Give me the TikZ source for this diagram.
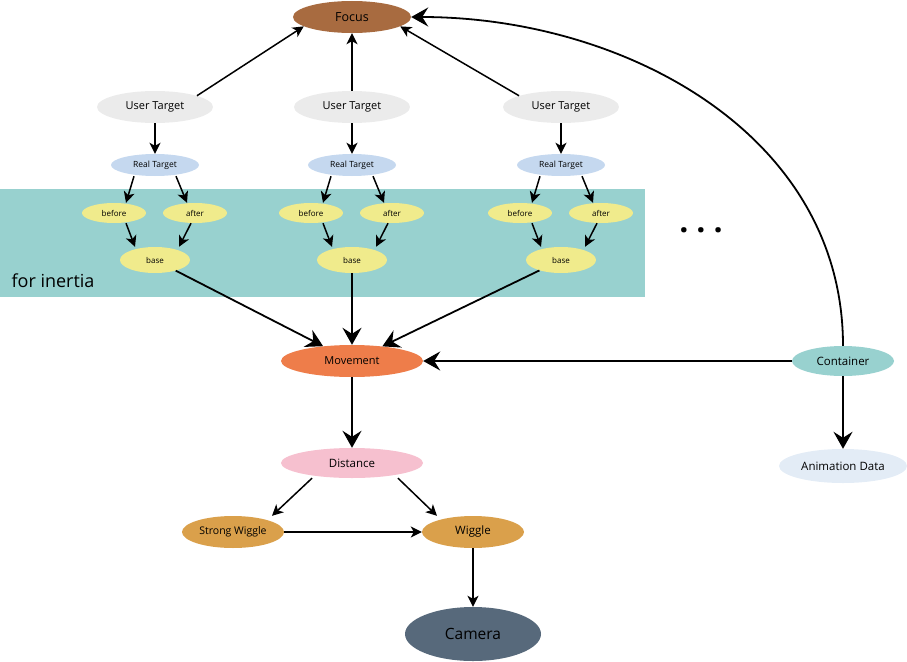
\documentclass[tikz,border=0pt]{standalone}
\usepackage{fontspec}
\setmainfont{Open Sans}
\usetikzlibrary{shapes.geometric,arrows.meta}

\definecolor{focuscol}{HTML}{A86B40}
\definecolor{usercol}{HTML}{EBEBEB}
\definecolor{realcol}{HTML}{C5D8EF}
\definecolor{inertcol}{HTML}{F0EB8C}
\definecolor{tealcol}{HTML}{98D1CF}
\definecolor{movecol}{HTML}{EE7D4A}
\definecolor{animcol}{HTML}{E3ECF6}
\definecolor{distcol}{HTML}{F6C0CF}
\definecolor{wigglecol}{HTML}{DAA04B}
\definecolor{cameracol}{HTML}{57697B}

\begin{document}
\begin{tikzpicture}[x=1pt,y=-1pt,
  blob/.style={ellipse, inner sep=0pt, text=black},
  bigarrow/.style={line width=1.8pt, -{Stealth[length=17pt,width=19pt,inset=6pt]}},
  smallarrow/.style={line width=1.5pt, -{Stealth[length=11pt,width=11pt,inset=3pt]}}]

\useasboundingbox (0,0) rectangle (907,661);

\fill [tealcol] (0,189) rectangle (645,297);
\node [anchor=base west, font=\fontsize{18}{20}\selectfont] (inertia) at (8,287) {for inertia};
\node [anchor=base, font=\fontsize{32}{32}\selectfont\bfseries] (dots) at (701,232) {.\hspace{8pt}.\hspace{8pt}.};

\node [blob, fill=focuscol, minimum width=118pt, minimum height=32pt, font=\fontsize{12.5}{15}\selectfont] (focus) at (352,17) {Focus};

\foreach \x [count=\i] in {155,352,561}{
  \node [blob, fill=usercol, minimum width=116pt, minimum height=32pt, font=\fontsize{11}{13}\selectfont] (user\i) at (\x,107) {User Target};
  \node [blob, fill=realcol, minimum width=88pt, minimum height=22pt, font=\fontsize{8.5}{10}\selectfont] (real\i) at (\x,165) {Real Target};
  \node [blob, fill=inertcol, minimum width=64pt, minimum height=20pt, font=\fontsize{8}{9}\selectfont] (before\i) at (\x-41,213) {before};
  \node [blob, fill=inertcol, minimum width=64pt, minimum height=20pt, font=\fontsize{8}{9}\selectfont] (after\i) at (\x+40,213) {after};
  \node [blob, fill=inertcol, minimum width=70pt, minimum height=26pt, font=\fontsize{8}{9}\selectfont] (base\i) at (\x,260) {base};
  \draw [smallarrow] (user\i) -- (real\i);
  \draw [smallarrow] ([xshift=-21pt]real\i.south) -- ([xshift=12pt]before\i.north);
  \draw [smallarrow] ([xshift=21pt]real\i.south) -- ([xshift=-8pt]after\i.north);
  \draw [smallarrow] ([xshift=12pt]before\i.south) -- ([xshift=-20pt]base\i.north);
  \draw [smallarrow] ([xshift=-4pt]after\i.south) -- ([xshift=24pt]base\i.north);
}

\node [blob, fill=movecol, minimum width=142pt, minimum height=32pt, font=\fontsize{11}{13}\selectfont] (movement) at (352,361) {Movement};
\node [blob, fill=tealcol, minimum width=102pt, minimum height=30pt, font=\fontsize{11.5}{13}\selectfont] (container) at (843,361) {Container};
\node [blob, fill=animcol, minimum width=128pt, minimum height=34pt, font=\fontsize{11.5}{13}\selectfont] (animdata) at (843,466) {Animation Data};
\node [blob, fill=distcol, minimum width=142pt, minimum height=30pt, font=\fontsize{11.5}{13}\selectfont] (distance) at (352,463) {Distance};
\node [blob, fill=wigglecol, minimum width=102pt, minimum height=32pt, font=\fontsize{10.5}{12}\selectfont] (strongwiggle) at (233,532) {Strong Wiggle};
\node [blob, fill=wigglecol, minimum width=102pt, minimum height=32pt, font=\fontsize{11.5}{13}\selectfont] (wiggle) at (473,532) {Wiggle};
\node [blob, fill=cameracol, minimum width=136pt, minimum height=54pt, font=\fontsize{15.5}{18}\selectfont] (camera) at (473,634) {Camera};

% into focus
\draw [smallarrow] (user1.15) -- (focus.191);
\draw [smallarrow] (user2) -- (focus);
\draw [smallarrow] (user3.165) -- (focus.-11);
\draw [bigarrow] (container.north) to[out=90,in=0] (focus.east);

% into movement
\foreach \i in {1,2,3}
  \draw [bigarrow] (base\i) -- (movement);
\draw [bigarrow] (container) -- (movement);
\draw [bigarrow] (container) -- (animdata);

\draw [bigarrow] (movement) -- (distance);
\draw [smallarrow] ([xshift=-40pt]distance.south) -- ([xshift=39pt]strongwiggle.north);
\draw [smallarrow] ([xshift=46pt]distance.south) -- ([xshift=-36pt]wiggle.north);
\draw [smallarrow] (strongwiggle) -- (wiggle);
\draw [smallarrow] (wiggle) -- (camera);

\end{tikzpicture}
\end{document}
